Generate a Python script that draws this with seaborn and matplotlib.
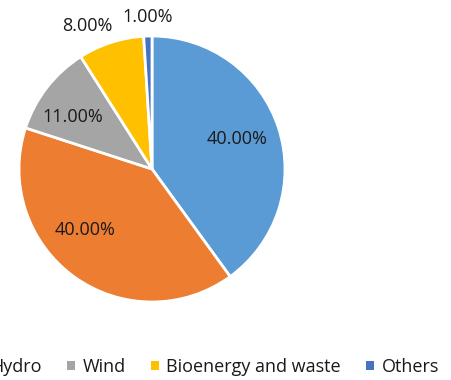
import matplotlib
matplotlib.use("Agg")
import matplotlib.pyplot as plt
import numpy as np
import seaborn as sns

# Renewable energy mix (share, %)
sources = ["Solar", "Hydro", "Wind", "Bioenergy and waste", "Others"]
shares = [40.0, 40.0, 11.0, 8.0, 1.0]
colors = ["#5B9BD5", "#ED7D31", "#A5A5A5", "#FFC000", "#4472C4"]

# label placement: radius (fraction of pie radius) and angular nudge (deg)
label_radius = [0.68, 0.68, 0.71, 1.18, 1.14]
label_nudge = [1.5, -11.5, 4.5, 6.5, 0.0]

sns.set_theme(style="white")
plt.rcParams["font.family"] = ["Open Sans", "DejaVu Sans"]

W, H = 451, 380
fig = plt.figure(figsize=(W / 100, H / 100), dpi=100)
cx, cy, r = 152, 169, 133
ax = fig.add_axes([(cx - r) / W, (H - cy - r) / H, 2 * r / W, 2 * r / H])

wedges, _ = ax.pie(
    shares,
    colors=colors,
    startangle=90,
    counterclock=False,
    radius=1.0,
    wedgeprops=dict(edgecolor="white", linewidth=2, clip_on=False),
)
ax.set_xlim(-1, 1)
ax.set_ylim(-1, 1)
ax.set_aspect("auto")
ax.axis("off")

for w, val, rr, nd in zip(wedges, shares, label_radius, label_nudge):
    mid = np.deg2rad((w.theta1 + w.theta2) / 2 + nd)
    ax.text(rr * np.cos(mid), rr * np.sin(mid), f"{val:.2f}%",
            ha="center", va="center", fontsize=13, color="#1a1a1a",
            clip_on=False)

handles = [plt.Rectangle((0, 0), 1, 1, facecolor=c, edgecolor="none") for c in colors]
fig.legend(handles, sources, ncol=5, frameon=False, fontsize=13,
           loc="center right", bbox_to_anchor=(439 / W, 1 - 367 / H),
           borderaxespad=0, borderpad=0, handlelength=0.45, handleheight=0.45,
           handletextpad=0.4, columnspacing=1.4, labelcolor="#1a1a1a")

fig.savefig("out.png", dpi=100)
